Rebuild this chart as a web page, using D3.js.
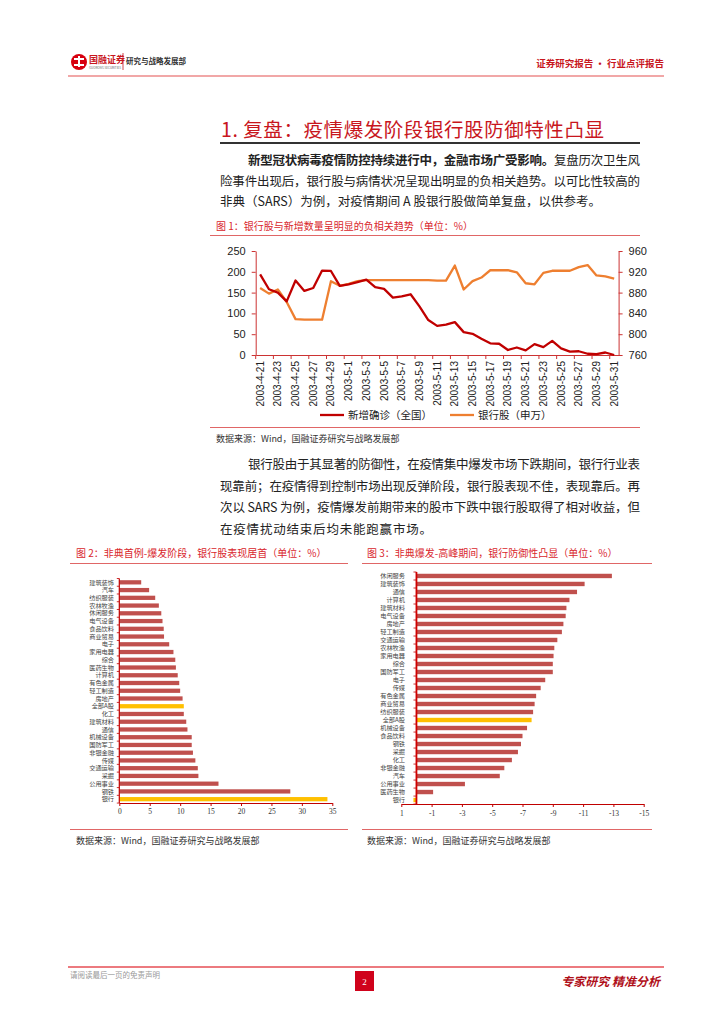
<!DOCTYPE html>
<html><head><meta charset="utf-8">
<script src="https://cdn.jsdelivr.net/npm/d3@7/dist/d3.min.js"></script>
<style>body{margin:0;background:#fff}svg{display:block;font-family:"Noto Sans CJK SC","Noto Sans",sans-serif}</style>
</head><body>
<svg id="pg" width="724" height="1024"></svg>
<script>
// ---------- DATA ----------
const dates = ["2003-4-21","2003-4-22","2003-4-23","2003-4-24","2003-4-25","2003-4-26","2003-4-27","2003-4-28","2003-4-29","2003-4-30",
"2003-5-1","2003-5-2","2003-5-3","2003-5-4","2003-5-5","2003-5-6","2003-5-7","2003-5-8","2003-5-9","2003-5-10",
"2003-5-11","2003-5-12","2003-5-13","2003-5-14","2003-5-15","2003-5-16","2003-5-17","2003-5-18","2003-5-19","2003-5-20",
"2003-5-21","2003-5-22","2003-5-23","2003-5-24","2003-5-25","2003-5-26","2003-5-27","2003-5-28","2003-5-29","2003-5-30","2003-5-31"];
const newCases = [194,158,150,129,179,154,161,203,202,166,170,175,181,163,159,138,141,146,117,84,70,73,79,55,51,39,28,27,12,18,11,26,19,34,16,8,9,3,2,6,0];
const bankIdx = [889,878,886,862,829,828,828,828,902,893,897,902,904,904,904,904,904,904,904,904,903,903,932,886,902,909,923,923,923,919,898,896,918,922,922,922,929,933,913,911,907];
const leftTicks = [0,50,100,150,200,250];
const rightTicks = [760,800,840,880,920,960];
const seriesNames = ["新增确诊（全国）","银行股（申万）"];

const cats2 = ["建筑装饰","汽车","纺织服装","农林牧渔","休闲服务","电气设备","食品饮料","商业贸易","电子","家用电器","综合","医药生物","计算机","有色金属","轻工制造","房地产","全部A股","化工","建筑材料","通信","机械设备","国防军工","非银金融","传媒","交通运输","采掘","公用事业","钢铁","银行"];
const vals2 = [3.6,4.9,5.9,6.5,6.9,7.1,7.3,7.35,8.2,8.9,9.2,9.3,9.6,9.85,10.0,10.4,10.6,10.6,11.0,11.2,11.9,11.9,12.1,12.5,12.9,13.0,16.3,28.1,34.2];
const ticks2 = [0,5,10,15,20,25,30,35];

const cats3 = ["休闲服务","建筑装饰","通信","计算机","建筑材料","电气设备","房地产","轻工制造","交通运输","农林牧渔","家用电器","综合","国防军工","电子","传媒","有色金属","商业贸易","纺织服装","全部A股","机械设备","食品饮料","钢铁","采掘","化工","非银金融","汽车","公用事业","医药生物","银行"];
const vals3 = [-12.9,-11.1,-10.6,-10.1,-9.9,-9.85,-9.7,-9.6,-9.3,-9.1,-9.05,-9.0,-9.0,-8.5,-8.2,-7.9,-7.8,-7.7,-7.6,-7.3,-7.0,-6.9,-6.7,-6.3,-5.8,-5.5,-3.2,-1.1,0.2];
const ticks3 = [1,-1,-3,-5,-7,-9,-11,-13,-15];
const highlight = ["全部A股","银行"];

// ---------- PAGE ----------
const svg = d3.select("#pg");
svg.append("rect").attr("width",724).attr("height",1024).attr("fill","#fff");
const RED = "#c8161d";

// header
svg.append("circle").attr("cx",79).attr("cy",62).attr("r",8).attr("fill","#d7000f");
svg.append("rect").attr("x",74).attr("y",58).attr("width",10).attr("height",2).attr("fill","#fff");
svg.append("rect").attr("x",74).attr("y",64).attr("width",10).attr("height",2).attr("fill","#fff");
svg.append("rect").attr("x",78).attr("y",56).attr("width",2).attr("height",11).attr("fill","#fff");
svg.append("text").attr("x",89).attr("y",63).attr("font-size",9).attr("font-weight","bold").attr("fill","#c8161d").text("国融证券");
svg.append("text").attr("x",89).attr("y",68.5).attr("font-size",3).attr("fill","#666").text("GUORONG SECURITIES");
svg.append("line").attr("x1",123).attr("x2",123).attr("y1",53).attr("y2",70).attr("stroke","#c8161d").attr("stroke-width",0.8);
svg.append("text").attr("x",126).attr("y",64).attr("font-size",7.5).attr("font-weight","bold").attr("fill","#333").text("研究与战略发展部");
svg.append("text").attr("x",664).attr("y",67).attr("text-anchor","end").attr("font-size",9.5).attr("font-weight","bold").attr("fill",RED).text("证券研究报告 • 行业点评报告");
svg.append("line").attr("x1",68).attr("x2",664).attr("y1",76).attr("y2",76).attr("stroke","#ec8a8a").attr("stroke-width",1.5);

// title
svg.append("text").attr("x",221).attr("y",137).attr("font-size",19.5).attr("fill",RED)
  .attr("textLength",383).attr("lengthAdjust","spacing").text("1.  复盘：疫情爆发阶段银行股防御特性凸显");
svg.append("line").attr("x1",220).attr("x2",640).attr("y1",143).attr("y2",143).attr("stroke","#333").attr("stroke-width",2);

function para(x,y,str,len,bold){
  const t = svg.append("text").attr("x",x).attr("y",y).attr("font-size",12.5).attr("fill","#222");
  if(len) t.attr("textLength",len).attr("lengthAdjust","spacing");
  if(bold){
    t.append("tspan").attr("font-weight","bold").text(bold);
  }
  t.append("tspan").text(str);
}
para(248,165,"复盘历次卫生风",392,"新型冠状病毒疫情防控持续进行中，金融市场广受影响。");
para(220,186,"险事件出现后，银行股与病情状况呈现出明显的负相关趋势。以可比性较高的",420);
para(220,206,"非典（SARS）为例，对疫情期间 A 股银行股做简单复盘，以供参考。",381);

// caption 1
svg.append("text").attr("x",216).attr("y",230).attr("font-size",10).attr("fill","#d9262c").text("图 1：银行股与新增数量呈明显的负相关趋势（单位：%）");
svg.append("line").attr("x1",210).attr("x2",640).attr("y1",235.5).attr("y2",235.5).attr("stroke","#e06666").attr("stroke-width",1);

// ---------- CHART 1 ----------
const AX = "#cc3333";
const x1 = d3.scaleBand().domain(dates).range([255.7,618.6]);
const bw = x1.bandwidth();
const yl = d3.scaleLinear().domain([0,250]).range([355,251]);
const yr = d3.scaleLinear().domain([760,960]).range([355,251]);
const c1 = svg.append("g");
const gl = c1.append("g").attr("transform","translate(255.7,0)").call(d3.axisLeft(yl).tickValues(leftTicks).tickSize(4).tickSizeOuter(0).tickPadding(6));
gl.selectAll("text").attr("font-size",11).attr("fill","#222").attr("font-family","Liberation Sans, Arial, sans-serif");
gl.selectAll("line,path").attr("stroke",AX);
const gr = c1.append("g").attr("transform","translate(618.6,0)").call(d3.axisRight(yr).tickValues(rightTicks).tickSize(4).tickSizeOuter(0).tickPadding(6));
gr.selectAll("text").attr("font-size",11).attr("fill","#222").attr("font-family","Liberation Sans, Arial, sans-serif");
gr.selectAll("line,path").attr("stroke",AX);
const everyOther = dates.filter((d,i)=>i%2===0);
const gb = c1.append("g").attr("transform","translate(0,355)").call(d3.axisBottom(x1).tickValues(everyOther).tickSize(4).tickSizeOuter(0));
gb.select("path").attr("stroke",AX);
gb.selectAll(".tick line").attr("stroke",AX).attr("transform",`translate(${-bw/2},0)`);
gb.selectAll(".tick text").attr("font-size",10).attr("fill","#222").attr("font-family","Liberation Sans, Arial, sans-serif")
  .attr("transform","rotate(-90)").attr("text-anchor","end").attr("x",-6).attr("y",0).attr("dy","0.35em");
const lineL = d3.line().x((d,i)=>x1(dates[i])+bw/2).y(d=>yl(d));
const lineR = d3.line().x((d,i)=>x1(dates[i])+bw/2).y(d=>yr(d));
c1.append("path").datum(bankIdx).attr("d",lineR).attr("fill","none").attr("stroke","#ee7f30").attr("stroke-width",2.3).attr("stroke-linejoin","round");
c1.append("path").datum(newCases).attr("d",lineL).attr("fill","none").attr("stroke","#c00000").attr("stroke-width",2.3).attr("stroke-linejoin","round");
const lg = c1.append("g");
lg.append("line").attr("x1",320).attr("x2",344).attr("y1",415).attr("y2",415).attr("stroke","#c00000").attr("stroke-width",2.3);
lg.append("text").attr("x",348).attr("y",419).attr("font-size",10.5).attr("fill","#222").text(seriesNames[0]);
lg.append("line").attr("x1",450).attr("x2",474).attr("y1",415).attr("y2",415).attr("stroke","#ee7f30").attr("stroke-width",2.3);
lg.append("text").attr("x",478).attr("y",419).attr("font-size",10.5).attr("fill","#222").text(seriesNames[1]);

svg.append("line").attr("x1",210).attr("x2",640).attr("y1",427.5).attr("y2",427.5).attr("stroke","#e06666").attr("stroke-width",1);
svg.append("text").attr("x",216).attr("y",442).attr("font-size",9).attr("fill","#333").text("数据来源：Wind，国融证券研究与战略发展部");

// paragraph 2
para(248,469,"银行股由于其显著的防御性，在疫情集中爆发市场下跌期间，银行行业表",392);
para(220,491,"现靠前；在疫情得到控制市场出现反弹阶段，银行股表现不佳，表现靠后。再",420);
para(220,512,"次以 SARS 为例，疫情爆发前期带来的股市下跌中银行股取得了相对收益，但",420);
para(220,534,"在疫情扰动结束后均未能跑赢市场。",212);

// captions 2 & 3
svg.append("text").attr("x",76).attr("y",557).attr("font-size",10).attr("fill","#d9262c").text("图 2：非典首例-爆发阶段，银行股表现居首（单位：%）");
svg.append("line").attr("x1",70).attr("x2",348).attr("y1",563.5).attr("y2",563.5).attr("stroke","#e06666").attr("stroke-width",1);
svg.append("text").attr("x",367).attr("y",557).attr("font-size",10).attr("fill","#d9262c").text("图 3：非典爆发-高峰期间，银行防御性凸显（单位：%）");
svg.append("line").attr("x1",362).attr("x2",652).attr("y1",563.5).attr("y2",563.5).attr("stroke","#e06666").attr("stroke-width",1);

// ---------- CHART 2 ----------
const BAR = "#c0504d", YEL = "#ffc000", LBL = "#444";
const x2 = d3.scaleLinear().domain([0,35]).range([119.3,332.3]);
const y2 = d3.scaleBand().domain(cats2).range([578.5,803]).paddingInner(0.45).paddingOuter(0.22);
const c2 = svg.append("g");
c2.selectAll("rect.b").data(cats2).join("rect").attr("class","b")
  .attr("x",x2(0)).attr("y",d=>y2(d)).attr("height",y2.bandwidth())
  .attr("width",(d,i)=>x2(vals2[i])-x2(0)).attr("fill",d=>highlight.includes(d)?YEL:BAR);
c2.append("line").attr("x1",x2(0)).attr("x2",x2(0)).attr("y1",578.5).attr("y2",803).attr("stroke","#c00000").attr("stroke-width",1.2);
c2.selectAll("line.yt").data(d3.range(cats2.length+1)).join("line").attr("class","yt")
  .attr("x1",x2(0)-2.5).attr("x2",x2(0)).attr("y1",i=>578.5+i*y2.step()).attr("y2",i=>578.5+i*y2.step())
  .attr("stroke","#c00000").attr("stroke-width",0.8);
c2.selectAll("text.cl").data(cats2).join("text").attr("class","cl")
  .attr("x",114).attr("y",d=>y2(d)+y2.bandwidth()/2).attr("dy","0.35em").attr("text-anchor","end")
  .attr("font-size",6.2).attr("fill",LBL).text(d=>d);
const g2x = c2.append("g").attr("transform","translate(0,803)").call(d3.axisBottom(x2).tickValues(ticks2).tickSize(3).tickSizeOuter(0).tickPadding(3));
g2x.selectAll("line,path").attr("stroke","#c00000");
g2x.selectAll("text").attr("font-size",7.5).attr("fill","#333").attr("font-family","Liberation Serif, serif");

// ---------- CHART 3 ----------
const x3 = d3.scaleLinear().domain([1,-15]).range([401.3,643.7]);
const y3 = d3.scaleBand().domain(cats3).range([572,804]).paddingInner(0.45).paddingOuter(0.22);
const c3 = svg.append("g");
c3.selectAll("rect.b").data(cats3).join("rect").attr("class","b")
  .attr("y",d=>y3(d)).attr("height",y3.bandwidth())
  .attr("x",(d,i)=>Math.min(x3(0),x3(vals3[i]))).attr("width",(d,i)=>Math.abs(x3(vals3[i])-x3(0)))
  .attr("fill",d=>highlight.includes(d)?YEL:BAR);
const g3x = c3.append("g").attr("transform","translate(0,804)").call(d3.axisBottom(x3).tickValues(ticks3).tickSize(3).tickSizeOuter(0).tickPadding(4).tickFormat(d=>String(d)));
g3x.selectAll("line,path").attr("stroke","#c00000");
g3x.selectAll("text").attr("font-size",7.5).attr("fill","#333").attr("font-family","Liberation Serif, serif");
c3.append("line").attr("x1",x3(0)).attr("x2",x3(0)).attr("y1",572).attr("y2",804).attr("stroke","#d00000").attr("stroke-width",1.8);
c3.selectAll("line.yt").data(d3.range(cats3.length+1)).join("line").attr("class","yt")
  .attr("x1",x3(0)-3).attr("x2",x3(0)).attr("y1",i=>572+i*y3.step()).attr("y2",i=>572+i*y3.step())
  .attr("stroke","#c00000").attr("stroke-width",0.8);
c3.selectAll("text.cl").data(cats3).join("text").attr("class","cl")
  .attr("x",405).attr("y",d=>y3(d)+y3.bandwidth()/2).attr("dy","0.35em").attr("text-anchor","end")
  .attr("font-size",6.2).attr("fill",LBL).text(d=>d);

// sources 2 & 3
svg.append("line").attr("x1",70).attr("x2",348).attr("y1",829.5).attr("y2",829.5).attr("stroke","#e06666").attr("stroke-width",1);
svg.append("line").attr("x1",362).attr("x2",652).attr("y1",829.5).attr("y2",829.5).attr("stroke","#e06666").attr("stroke-width",1);
svg.append("text").attr("x",76).attr("y",844).attr("font-size",9).attr("fill","#333").text("数据来源：Wind，国融证券研究与战略发展部");
svg.append("text").attr("x",367).attr("y",844).attr("font-size",9).attr("fill","#333").text("数据来源：Wind，国融证券研究与战略发展部");

// footer
svg.append("line").attr("x1",68).attr("x2",664).attr("y1",967).attr("y2",967).attr("stroke","#ec7a7f").attr("stroke-width",2);
svg.append("text").attr("x",70).attr("y",978).attr("font-size",7.5).attr("fill","#999").text("请阅读最后一页的免责声明");
svg.append("rect").attr("x",355).attr("y",971).attr("width",19).attr("height",20).attr("fill","#d0021b");
svg.append("text").attr("x",364.5).attr("y",985).attr("text-anchor","middle").attr("font-size",9).attr("fill","#fff").attr("font-family","Liberation Serif, serif").text("2");
svg.append("text").attr("x",660).attr("y",986).attr("text-anchor","end").attr("font-size",12).attr("font-style","italic").attr("font-weight","bold").attr("fill","#b0101a").text("专家研究 精准分析");
</script>
</body></html>
